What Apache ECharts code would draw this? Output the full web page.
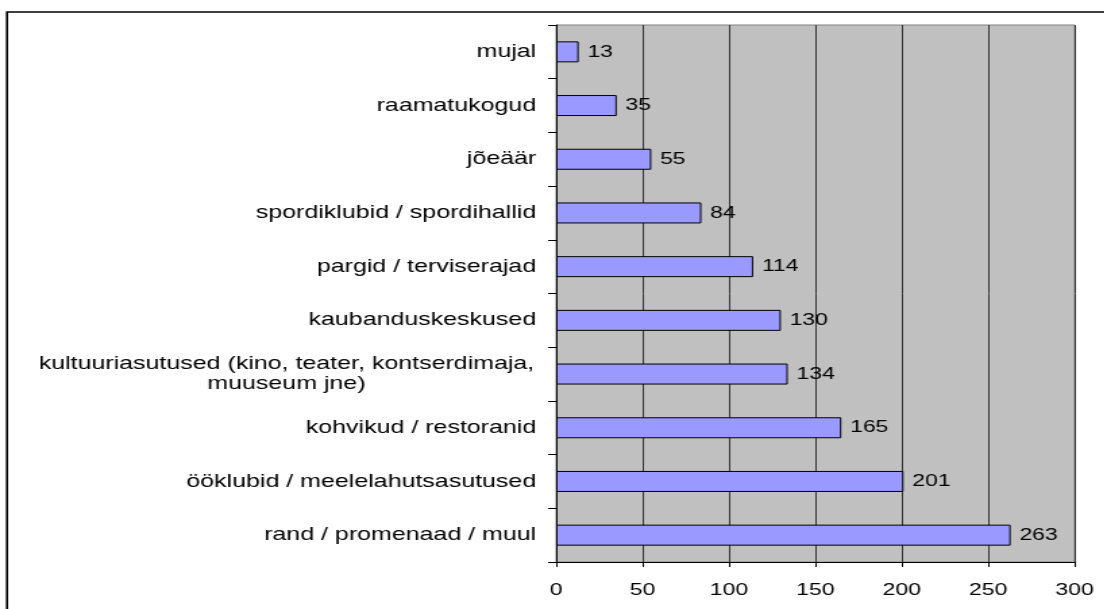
<!DOCTYPE html>
<html>
<head>
<meta charset="utf-8">
<script src="https://cdn.jsdelivr.net/npm/echarts@6/dist/echarts.min.js"></script>
<style>
html,body{margin:0;padding:0;background:#fff;overflow:hidden;width:1104px;height:609px;}
#c{width:818px;height:609px;transform:scaleX(1.35);transform-origin:0 0;}
</style>
</head>
<body>
<div id="c"></div>
<script>
const categories = [
  'mujal',
  'raamatukogud',
  'jõeäär',
  'spordiklubid / spordihallid',
  'pargid / terviserajad',
  'kaubanduskeskused',
  'kultuuriasutused (kino, teater, kontserdimaja,\nmuuseum jne)',
  'kohvikud / restoranid',
  'ööklubid / meelelahutsasutused',
  'rand / promenaad / muul'
];
const values = [13, 35, 55, 84, 114, 130, 134, 165, 201, 263];
const xTicks = [0, 50, 100, 150, 200, 250, 300];

const font = 'Liberation Sans, Arial, sans-serif';
const catData = categories.map(function (c) {
  if (c.indexOf('\n') >= 0) {
    return {value: c, textStyle: {align: 'center', padding: [0, 370, 0, 0]}};
  }
  return c;
});

const chart = echarts.init(document.getElementById('c'), null, {renderer: 'canvas'});
chart.setOption({
  animation: false,
  backgroundColor: '#ffffff',
  graphic: [{
    type: 'rect',
    shape: {x: 5.2, y: 12, width: 1000, height: 700},
    style: {fill: 'none', stroke: '#000', lineWidth: 1.6},
    silent: true, z: 100
  }],
  grid: {
    left: 412, right: 22, top: 25, bottom: 47,
    show: true, backgroundColor: '#C0C0C0', borderColor: '#808080', borderWidth: 1
  },
  xAxis: {
    type: 'value', min: xTicks[0], max: xTicks[xTicks.length - 1], interval: 50,
    axisLine: {show: true, lineStyle: {color: '#000', width: 1}},
    axisTick: {show: true, length: 5, lineStyle: {color: '#000'}},
    axisLabel: {color: '#000', fontFamily: font, fontSize: 17, margin: 20},
    splitLine: {show: true, lineStyle: {color: '#333', width: 1}}
  },
  yAxis: {
    type: 'category', data: catData, inverse: true,
    axisLine: {show: true, lineStyle: {color: '#000', width: 1}},
    axisTick: {show: true, length: 6, interval: 0, lineStyle: {color: '#000'}},
    axisLabel: {
      color: '#000', fontFamily: font, fontSize: 18.5, margin: 14.8, interval: 0,
      lineHeight: 20
    },
    splitLine: {show: false}
  },
  series: [{
    type: 'bar', data: values, barWidth: 21,
    itemStyle: {color: '#9999FF', borderColor: '#000', borderWidth: 1},
    label: {show: true, position: 'right', distance: 6.5, color: '#000', fontFamily: font, fontSize: 17}
  }]
});
</script>
</body>
</html>
